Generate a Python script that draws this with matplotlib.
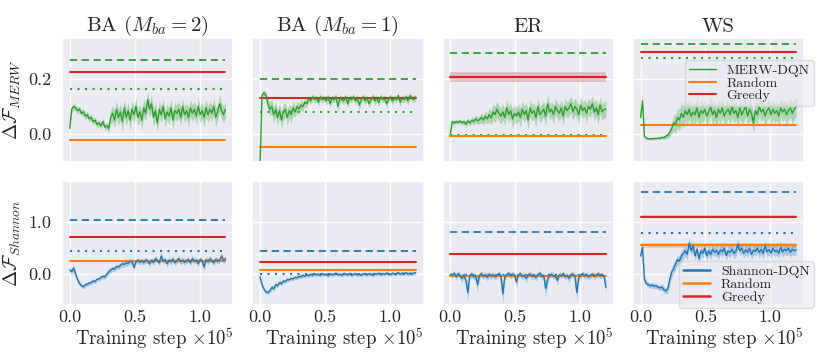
import numpy as np
import matplotlib
matplotlib.use('Agg')
import matplotlib.pyplot as plt
from matplotlib.ticker import FuncFormatter
import seaborn as sns

sns.set_theme(style='darkgrid')
plt.rcParams['font.family'] = ['serif']
plt.rcParams['font.serif'] = ['cmr10']
plt.rcParams['mathtext.fontset'] = 'cm'
plt.rcParams['axes.formatter.use_mathtext'] = True

titles = ["BA ($M_{ba}=2$)", "BA ($M_{ba}=1$)", "ER", "WS"]
steps = np.linspace(0.0, 1.2, 81)  # training step (x 1e5)

# ---------- MERW row ----------
merw_ba2 = [0.02, 0.09, 0.10, 0.095, 0.085, 0.09, 0.075, 0.08, 0.065, 0.07,
            0.055, 0.06, 0.045, 0.05, 0.035, 0.04, 0.03, 0.045, 0.025, 0.03,
            0.02, 0.06, 0.075, 0.05, 0.09, 0.06, 0.08, 0.045, 0.095, 0.06,
            0.085, 0.05, 0.09, 0.07, 0.10, 0.06, 0.08, 0.05, 0.095, 0.075,
            0.125, 0.09, 0.11, 0.06, 0.085, 0.04, 0.09, 0.07, 0.10, 0.055,
            0.08, 0.065, 0.095, 0.05, 0.085, 0.075, 0.09, 0.06, 0.10, 0.07,
            0.085, 0.06, 0.095, 0.075, 0.09, 0.065, 0.10, 0.07, 0.085, 0.06,
            0.095, 0.07, 0.09, 0.075, 0.10, 0.06, 0.08, 0.11, 0.085, 0.07, 0.09]
merw_ba2_sd = [0.008, 0.012, 0.012, 0.012, 0.012, 0.012, 0.012, 0.012, 0.012, 0.012,
               0.012, 0.012, 0.012, 0.012, 0.012, 0.012, 0.012, 0.012, 0.012, 0.012,
               0.015, 0.025, 0.03, 0.03, 0.03, 0.03, 0.03, 0.035, 0.03, 0.03,
               0.03, 0.035, 0.03, 0.03, 0.03, 0.03, 0.03, 0.035, 0.03, 0.03,
               0.03, 0.03, 0.03, 0.035, 0.03, 0.03, 0.03, 0.03, 0.03, 0.03,
               0.03, 0.03, 0.03, 0.035, 0.03, 0.03, 0.03, 0.03, 0.03, 0.03,
               0.03, 0.035, 0.03, 0.03, 0.03, 0.03, 0.03, 0.03, 0.03, 0.035,
               0.03, 0.03, 0.03, 0.03, 0.03, 0.035, 0.03, 0.03, 0.03, 0.03, 0.03]

merw_ba1 = [-0.12, 0.14, 0.15, 0.14, 0.11, 0.09, 0.10, 0.07, 0.09, 0.06,
            0.085, 0.05, 0.08, 0.09, 0.06, 0.085, 0.07, 0.095, 0.08, 0.10,
            0.09, 0.105, 0.10, 0.115, 0.11, 0.13, 0.12, 0.135, 0.125, 0.13,
            0.115, 0.135, 0.125, 0.13, 0.12, 0.135, 0.11, 0.13, 0.125, 0.135,
            0.10, 0.13, 0.125, 0.12, 0.135, 0.11, 0.13, 0.125, 0.135, 0.12,
            0.13, 0.105, 0.125, 0.135, 0.12, 0.13, 0.11, 0.125, 0.135, 0.12,
            0.13, 0.115, 0.135, 0.125, 0.13, 0.11, 0.125, 0.135, 0.12, 0.13,
            0.125, 0.14, 0.115, 0.13, 0.125, 0.135, 0.12, 0.14, 0.13, 0.125, 0.135]
merw_ba1_sd = [0.0, 0.01, 0.01, 0.015, 0.02, 0.025, 0.025, 0.03, 0.025, 0.03,
               0.025, 0.03, 0.03, 0.025, 0.03, 0.025, 0.03, 0.025, 0.02, 0.02,
               0.02, 0.018, 0.018, 0.015, 0.015, 0.012, 0.012, 0.012, 0.012, 0.012,
               0.015, 0.012, 0.012, 0.012, 0.015, 0.012, 0.015, 0.012, 0.012, 0.012,
               0.018, 0.012, 0.012, 0.015, 0.012, 0.015, 0.012, 0.012, 0.012, 0.015,
               0.012, 0.018, 0.012, 0.012, 0.015, 0.012, 0.015, 0.012, 0.012, 0.015,
               0.012, 0.015, 0.012, 0.012, 0.012, 0.015, 0.012, 0.012, 0.015, 0.012,
               0.012, 0.012, 0.015, 0.012, 0.012, 0.012, 0.015, 0.012, 0.012, 0.012, 0.012]

merw_er = [0.0, 0.045, 0.04, 0.045, 0.042, 0.047, 0.04, 0.045, 0.035, 0.048,
           0.04, 0.05, 0.045, 0.055, 0.048, 0.052, 0.06, 0.05, 0.065, 0.055,
           0.07, 0.058, 0.08, 0.07, 0.09, 0.075, 0.065, 0.08, 0.06, 0.095,
           0.07, 0.085, 0.055, 0.075, 0.065, 0.08, 0.06, 0.09, 0.07, 0.085,
           0.05, 0.095, 0.075, 0.085, 0.06, 0.10, 0.07, 0.08, 0.09, 0.065,
           0.11, 0.08, 0.09, 0.07, 0.10, 0.085, 0.075, 0.095, 0.065, 0.10,
           0.085, 0.095, 0.11, 0.08, 0.10, 0.09, 0.07, 0.105, 0.085, 0.095,
           0.075, 0.10, 0.09, 0.11, 0.08, 0.095, 0.07, 0.105, 0.08, 0.09, 0.09]
merw_er_sd = [0.012, 0.008, 0.008, 0.008, 0.008, 0.008, 0.008, 0.01, 0.01, 0.01,
              0.01, 0.012, 0.012, 0.015, 0.015, 0.015, 0.018, 0.018, 0.02, 0.02,
              0.025, 0.025, 0.028, 0.03, 0.03, 0.03, 0.03, 0.03, 0.03, 0.03,
              0.03, 0.03, 0.035, 0.03, 0.03, 0.03, 0.035, 0.03, 0.03, 0.03,
              0.035, 0.03, 0.03, 0.03, 0.035, 0.03, 0.03, 0.03, 0.03, 0.035,
              0.03, 0.03, 0.03, 0.035, 0.03, 0.03, 0.03, 0.03, 0.035, 0.03,
              0.03, 0.03, 0.03, 0.035, 0.03, 0.03, 0.035, 0.03, 0.03, 0.03,
              0.035, 0.03, 0.03, 0.03, 0.035, 0.03, 0.035, 0.03, 0.03, 0.03, 0.03]

merw_ws = [0.06, 0.12, -0.01, -0.015, -0.018, -0.017, -0.018, -0.016, -0.017, -0.015,
           -0.016, -0.012, -0.014, -0.008, -0.005, 0.005, 0.02, 0.04, 0.035, 0.06,
           0.05, 0.075, 0.06, 0.085, 0.07, 0.09, 0.065, 0.08, 0.07, 0.095,
           0.06, 0.085, 0.075, 0.09, 0.065, 0.08, 0.10, 0.07, 0.085, 0.06,
           0.09, 0.075, 0.095, 0.065, 0.08, 0.09, 0.07, 0.10, 0.075, 0.085,
           0.06, 0.095, 0.07, 0.085, 0.10, 0.065, 0.09, 0.075, 0.04, 0.085,
           0.07, 0.10, 0.08, 0.09, 0.065, 0.085, 0.095, 0.07, 0.09, 0.075,
           0.085, 0.065, 0.095, 0.08, 0.09, 0.07, 0.085, 0.095, 0.075, 0.09, 0.10]
merw_ws_sd = [0.01, 0.01, 0.005, 0.004, 0.004, 0.004, 0.004, 0.004, 0.004, 0.005,
              0.005, 0.005, 0.006, 0.008, 0.01, 0.015, 0.02, 0.03, 0.035, 0.035,
              0.04, 0.04, 0.04, 0.035, 0.04, 0.035, 0.04, 0.035, 0.035, 0.04,
              0.035, 0.04, 0.035, 0.035, 0.04, 0.035, 0.035, 0.04, 0.035, 0.035,
              0.035, 0.04, 0.035, 0.035, 0.04, 0.035, 0.035, 0.04, 0.035, 0.035,
              0.04, 0.035, 0.035, 0.04, 0.035, 0.035, 0.04, 0.035, 0.035, 0.035,
              0.04, 0.035, 0.035, 0.035, 0.04, 0.035, 0.035, 0.04, 0.035, 0.035,
              0.035, 0.04, 0.035, 0.035, 0.035, 0.04, 0.035, 0.035, 0.04, 0.035, 0.035]

merw_dashed = [0.269, 0.199, 0.293, 0.327]
merw_dotted = [0.162, 0.079, -0.002, 0.275]
merw_greedy = [0.224, 0.132, 0.207, 0.297]
merw_greedy_sd = [0.004, 0.004, 0.017, 0.003]
merw_random = [-0.022, -0.046, -0.008, 0.033]
merw_random_sd = [0.003, 0.004, 0.003, 0.003]

# ---------- Shannon row ----------
sh_ba2 = [0.08, 0.05, 0.12, 0.0, -0.10, -0.18, -0.22, -0.24, -0.20, -0.19,
          -0.17, -0.16, -0.13, -0.14, -0.10, -0.09, -0.06, -0.04, -0.05, 0.0,
          0.05, 0.08, 0.11, 0.10, 0.15, 0.14, 0.17, 0.20, 0.19, 0.22,
          0.21, 0.25, 0.24, 0.13, 0.24, 0.27, 0.23, 0.26, 0.22, 0.28,
          0.25, 0.20, 0.27, 0.23, 0.30, 0.26, 0.22, 0.35, 0.25, 0.28,
          0.20, 0.27, 0.24, 0.29, 0.22, 0.26, 0.30, 0.24, 0.27, 0.23,
          0.26, 0.28, 0.22, 0.30, 0.25, 0.27, 0.20, 0.29, 0.25, 0.14,
          0.28, 0.24, 0.30, 0.26, 0.22, 0.29, 0.25, 0.27, 0.35, 0.26, 0.30]
sh_ba2_sd = [0.05, 0.06, 0.06, 0.05, 0.04, 0.04, 0.04, 0.04, 0.04, 0.04,
             0.04, 0.04, 0.04, 0.04, 0.04, 0.04, 0.045, 0.045, 0.045, 0.05,
             0.05, 0.05, 0.05, 0.05, 0.05, 0.05, 0.05, 0.06, 0.05, 0.06,
             0.05, 0.06, 0.05, 0.08, 0.05, 0.06, 0.05, 0.06, 0.05, 0.06,
             0.05, 0.06, 0.05, 0.06, 0.06, 0.05, 0.06, 0.08, 0.05, 0.06,
             0.06, 0.05, 0.06, 0.05, 0.06, 0.05, 0.06, 0.05, 0.06, 0.05,
             0.06, 0.05, 0.06, 0.06, 0.05, 0.06, 0.06, 0.05, 0.06, 0.08,
             0.05, 0.06, 0.06, 0.05, 0.06, 0.05, 0.06, 0.05, 0.07, 0.06, 0.06]

sh_ba1 = [-0.05, -0.20, -0.29, -0.34, -0.35, -0.32, -0.25, -0.28, -0.20, -0.22,
          -0.16, -0.18, -0.13, -0.14, -0.10, -0.11, -0.08, -0.09, -0.06, -0.07,
          -0.04, -0.05, -0.02, -0.04, -0.01, -0.03, 0.0, -0.02, 0.01, -0.01,
          0.0, -0.02, 0.01, -0.01, 0.0, -0.03, 0.01, -0.01, 0.0, 0.02,
          -0.01, 0.0, -0.02, 0.01, 0.0, -0.01, 0.01, -0.02, 0.0, 0.01,
          -0.01, 0.0, -0.02, 0.01, 0.0, -0.01, 0.01, 0.0, -0.02, 0.01,
          0.0, 0.02, -0.01, 0.01, 0.0, 0.02, 0.01, -0.01, 0.02, 0.0,
          0.01, 0.03, 0.0, 0.02, 0.01, 0.03, 0.0, 0.02, 0.01, 0.02, 0.03]
sh_ba1_sd = [0.02, 0.04, 0.04, 0.04, 0.04, 0.04, 0.045, 0.04, 0.045, 0.04,
             0.04, 0.04, 0.04, 0.04, 0.035, 0.035, 0.035, 0.035, 0.035, 0.035,
             0.035, 0.035, 0.035, 0.035, 0.035, 0.035, 0.035, 0.035, 0.035, 0.035,
             0.035, 0.035, 0.035, 0.035, 0.035, 0.035, 0.035, 0.035, 0.035, 0.035,
             0.035, 0.035, 0.035, 0.035, 0.035, 0.035, 0.035, 0.035, 0.035, 0.035,
             0.035, 0.035, 0.035, 0.035, 0.035, 0.035, 0.035, 0.035, 0.035, 0.035,
             0.035, 0.035, 0.035, 0.035, 0.035, 0.035, 0.035, 0.035, 0.035, 0.035,
             0.035, 0.035, 0.035, 0.035, 0.035, 0.035, 0.035, 0.035, 0.035, 0.035, 0.035]

sh_er = [0.0, -0.02, 0.02, -0.05, 0.01, -0.03, -0.08, -0.01, -0.12, -0.35,
         -0.02, 0.0, -0.05, -0.03, -0.20, -0.02, 0.01, -0.04, -0.01, -0.06,
         0.0, -0.03, -0.01, -0.05, -0.02, 0.01, -0.03, -0.38, -0.05, -0.01,
         0.02, -0.03, 0.0, -0.02, -0.15, -0.01, 0.01, -0.04, -0.02, -0.08,
         -0.01, 0.0, -0.04, -0.02, -0.06, -0.01, 0.02, -0.05, -0.02, -0.28,
         -0.10, -0.02, 0.0, -0.04, -0.02, -0.12, -0.01, -0.03, 0.01, -0.05,
         -0.02, -0.08, -0.01, 0.0, -0.03, -0.35, -0.06, -0.02, 0.01, -0.03,
         -0.01, -0.05, -0.02, 0.0, -0.04, -0.02, 0.01, -0.03, -0.01, -0.04, -0.25]
sh_er_sd = [0.05, 0.05, 0.05, 0.06, 0.05, 0.06, 0.08, 0.05, 0.10, 0.18,
            0.06, 0.05, 0.06, 0.06, 0.15, 0.06, 0.05, 0.06, 0.05, 0.07,
            0.05, 0.06, 0.05, 0.06, 0.05, 0.05, 0.06, 0.20, 0.07, 0.05,
            0.05, 0.06, 0.05, 0.05, 0.12, 0.05, 0.05, 0.06, 0.05, 0.08,
            0.05, 0.05, 0.06, 0.05, 0.07, 0.05, 0.05, 0.06, 0.05, 0.15,
            0.10, 0.05, 0.05, 0.06, 0.05, 0.10, 0.05, 0.05, 0.05, 0.06,
            0.05, 0.08, 0.05, 0.05, 0.06, 0.18, 0.07, 0.05, 0.05, 0.06,
            0.05, 0.06, 0.05, 0.05, 0.06, 0.05, 0.05, 0.06, 0.05, 0.06, 0.12]

sh_ws = [0.35, 0.52, -0.10, -0.18, -0.20, -0.22, -0.21, -0.23, -0.22, -0.25,
         -0.26, -0.25, -0.30, -0.32, -0.28, -0.10, 0.05, 0.10, 0.20, 0.28,
         0.25, 0.35, 0.40, 0.45, 0.38, 0.60, 0.45, 0.55, 0.35, 0.48,
         0.30, 0.45, 0.40, 0.50, 0.35, 0.45, 0.38, 0.48, 0.42, 0.46,
         0.38, 0.47, 0.43, 0.50, 0.36, 0.45, 0.42, 0.48, 0.40, 0.44,
         0.58, 0.45, 0.50, 0.40, 0.47, 0.42, 0.50, 0.38, 0.46, 0.44,
         0.50, 0.42, 0.48, 0.40, 0.55, 0.43, 0.47, 0.41, 0.50, 0.44,
         0.46, 0.40, 0.52, 0.43, 0.48, 0.45, 0.50, 0.42, 0.48, 0.45, 0.47]
sh_ws_sd = [0.06, 0.06, 0.06, 0.05, 0.05, 0.05, 0.05, 0.05, 0.05, 0.05,
            0.05, 0.06, 0.06, 0.06, 0.08, 0.10, 0.10, 0.10, 0.10, 0.10,
            0.10, 0.10, 0.10, 0.10, 0.10, 0.10, 0.10, 0.10, 0.10, 0.10,
            0.10, 0.10, 0.09, 0.10, 0.10, 0.09, 0.10, 0.10, 0.09, 0.10,
            0.10, 0.09, 0.10, 0.10, 0.09, 0.10, 0.10, 0.09, 0.10, 0.10,
            0.09, 0.10, 0.10, 0.09, 0.10, 0.10, 0.09, 0.10, 0.10, 0.09,
            0.10, 0.10, 0.09, 0.10, 0.10, 0.09, 0.10, 0.10, 0.09, 0.10,
            0.10, 0.09, 0.10, 0.10, 0.09, 0.10, 0.10, 0.09, 0.10, 0.10, 0.09]

sh_dashed = [1.044, 0.454, 0.813, 1.57]
sh_dotted = [0.448, 0.0, -0.02, 0.794]
sh_greedy = [0.717, 0.237, 0.397, 1.108]
sh_greedy_sd = [0.015, 0.01, 0.015, 0.02]
sh_random = [0.256, 0.083, -0.03, 0.557]
sh_random_sd = [0.02, 0.01, 0.015, 0.05]

rows = [
    dict(curves=[merw_ba2, merw_ba1, merw_er, merw_ws],
         sds=[merw_ba2_sd, merw_ba1_sd, merw_er_sd, merw_ws_sd],
         dashed=merw_dashed, dotted=merw_dotted, greedy=merw_greedy,
         greedy_sd=merw_greedy_sd, random=merw_random, random_sd=merw_random_sd,
         color='#2ca02c', name='MERW-DQN', ylabel=r'$\Delta\mathcal{F}_{MERW}$',
         ylim=(-0.102, 0.349), yticks=[0.0, 0.2], hlw=1.0),
    dict(curves=[sh_ba2, sh_ba1, sh_er, sh_ws],
         sds=[sh_ba2_sd, sh_ba1_sd, sh_er_sd, sh_ws_sd],
         dashed=sh_dashed, dotted=sh_dotted, greedy=sh_greedy,
         greedy_sd=sh_greedy_sd, random=sh_random, random_sd=sh_random_sd,
         color='#1f77b4', name='Shannon-DQN', ylabel=r'$\Delta\mathcal{F}_{Shannon}$',
         ylim=(-0.59, 1.79), yticks=[0.0, 1.0], hlw=1.8),
]

ORANGE = '#ff7f0e'
RED = '#d62728'

fig, axes = plt.subplots(2, 4, figsize=(8.3, 3.63), dpi=100, sharex=True, sharey='row')
fig.subplots_adjust(left=0.0747, right=0.9687, top=0.8953, bottom=0.1598,
                    wspace=0.111, hspace=0.153)

fmt = FuncFormatter(lambda v, p: f'{v:.1f}')
x0, x1 = steps[0], steps[-1]
for r, row in enumerate(rows):
    for c in range(4):
        ax = axes[r, c]
        col = row['color']
        # baselines
        ax.plot([x0, x1], [row['dashed'][c]] * 2, color=col, lw=1.3, ls=(0, (4, 2.5)))
        ax.plot([x0, x1], [row['dotted'][c]] * 2, color=col, lw=1.5, ls=(0, (1, 2.6)))
        g, gs = row['greedy'][c], row['greedy_sd'][c]
        ax.fill_between([x0, x1], [g - gs] * 2, [g + gs] * 2, color=RED, alpha=0.25, lw=0)
        ax.plot([x0, x1], [g, g], color=RED, lw=1.5, label='Greedy')
        rv, rs = row['random'][c], row['random_sd'][c]
        ax.fill_between([x0, x1], [rv - rs] * 2, [rv + rs] * 2, color=ORANGE, alpha=0.3, lw=0)
        ax.plot([x0, x1], [rv, rv], color=ORANGE, lw=1.5, label='Random')
        # learning curve
        m = np.array(row['curves'][c])
        s = np.array(row['sds'][c])
        ax.fill_between(steps, m - s, m + s, color=col, alpha=0.3, lw=0)
        ax.plot(steps, m, color=col, lw=1.0, label=row['name'])

        ax.set_ylim(*row['ylim'])
        ax.set_yticks(row['yticks'])
        ax.yaxis.set_major_formatter(fmt)
        ax.set_xticks([0.0, 0.5, 1.0])
        ax.xaxis.set_major_formatter(fmt)
        ax.tick_params(axis='y', labelsize=13, pad=1.5)
        ax.tick_params(axis='x', labelsize=13, length=0, pad=3.5)
        if r == 0:
            ax.set_title(titles[c], fontsize=15, pad=4)
        if r == 1:
            ax.set_xlabel(r'Training step $\times 10^5$', fontsize=13.5, ha='right')
            ax.xaxis.set_label_coords(1.0, -0.17, transform=ax.transAxes)
            ax.xaxis.label.set_verticalalignment('top')
        if c == 0:
            ax.set_ylabel(row['ylabel'], fontsize=14, labelpad=4)

    ax = axes[r, 3]
    h, l = ax.get_legend_handles_labels()
    order = [2, 1, 0]
    handles = [h[i] for i in order]
    labels = [l[i] for i in order]
    if r == 0:
        leg = ax.legend(handles, labels, loc='upper right', bbox_to_anchor=(1.058, 0.823),
                        fontsize=10, borderaxespad=0, labelspacing=0.0,
                        handlelength=1.9, handletextpad=0.8, borderpad=0.3, framealpha=0.6)
    else:
        leg = ax.legend(handles, labels, loc='lower right', bbox_to_anchor=(1.058, -0.024),
                        fontsize=10, borderaxespad=0, labelspacing=0.0,
                        handlelength=1.9, handletextpad=0.8, borderpad=0.3, framealpha=0.6)
        for line in leg.get_lines():
            line.set_linewidth(row['hlw'])

fig.savefig('out.png', dpi=100)
